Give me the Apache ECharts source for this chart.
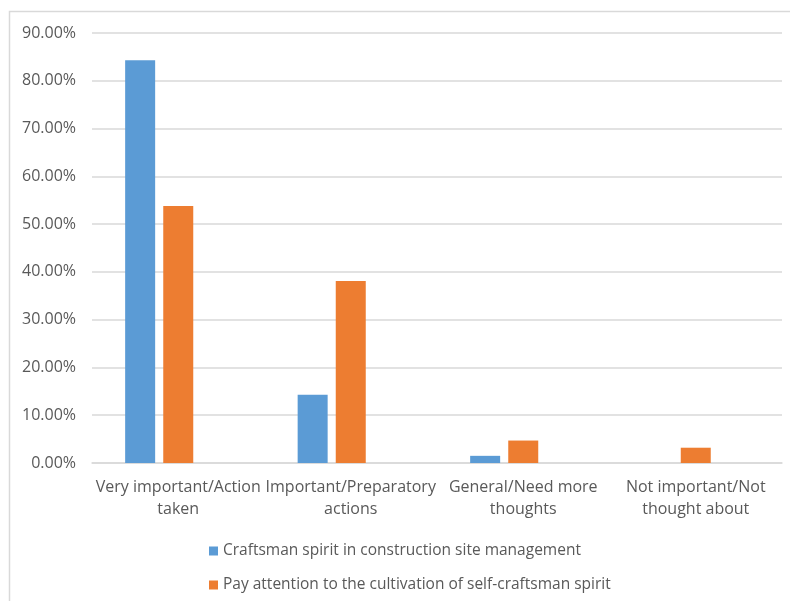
<!DOCTYPE html>
<html><head><meta charset="utf-8">
<script src="https://cdn.jsdelivr.net/npm/echarts@6/dist/echarts.min.js"></script>
<style>html,body{margin:0;padding:0;background:#fff}#c{width:790px;height:601px}</style>
</head><body><div id="c"></div>
<script>
const categories = ["Very important/Action\ntaken", "Important/Preparatory\nactions", "General/Need more\nthoughts", "Not important/Not\nthought about"];
const seriesNames = ["Craftsman spirit in construction site management", "Pay attention to the cultivation of self-craftsman spirit"];
const siteManagement = [84.3, 14.3, 1.5, 0];
const selfCultivation = [53.8, 38.1, 4.7, 3.2];
const yTicks = { min: 0, max: 90, interval: 10 };

const FONT = "Open Sans";
const chart = echarts.init(document.getElementById('c'), null, {renderer: 'canvas'});
chart.setOption({
  animation: false,
  textStyle: {fontFamily: FONT},
  graphic: [{type: 'rect', shape: {x: 9.5, y: 11.5, width: 800, height: 620}, style: {fill: 'none', stroke: '#d9d9d9', lineWidth: 1.5}, silent: true, z: -1}],
  grid: {left: 92, right: 8, top: 33, bottom: 138, containLabel: false},
  legend: {
    orient: 'vertical', left: 204, top: 538, itemWidth: 9, itemHeight: 9, itemGap: 18,
    icon: 'rect', data: seriesNames,
    textStyle: {fontFamily: FONT, fontSize: 15.5, color: '#595959', padding: [0, 0, 0, 0]}
  },
  xAxis: {
    type: 'category', data: categories,
    axisLine: {lineStyle: {color: '#d9d9d9', width: 1.5}},
    axisTick: {show: false},
    axisLabel: {fontFamily: FONT, fontSize: 16, color: '#595959', margin: 13, lineHeight: 22, interval: 0}
  },
  yAxis: {
    type: 'value', min: yTicks.min, max: yTicks.max, interval: yTicks.interval,
    axisLine: {show: false}, axisTick: {show: false},
    splitLine: {lineStyle: {color: '#d9d9d9', width: 1.5}},
    axisLabel: {fontFamily: FONT, fontSize: 16, color: '#595959', margin: 16, formatter: v => v.toFixed(2) + '%'}
  },
  series: [
    {name: seriesNames[0], type: 'bar', data: siteManagement, barWidth: 30, barGap: '27%', barCategoryGap: '38%', itemStyle: {color: '#5b9bd5'}},
    {name: seriesNames[1], type: 'bar', data: selfCultivation, barWidth: 30, barGap: '27%', itemStyle: {color: '#ed7d31'}},
    {name: '_spacer', type: 'bar', data: [null, null, null, null], barWidth: 30, barGap: '27%', itemStyle: {color: 'transparent'}}
  ]
});
</script></body></html>
